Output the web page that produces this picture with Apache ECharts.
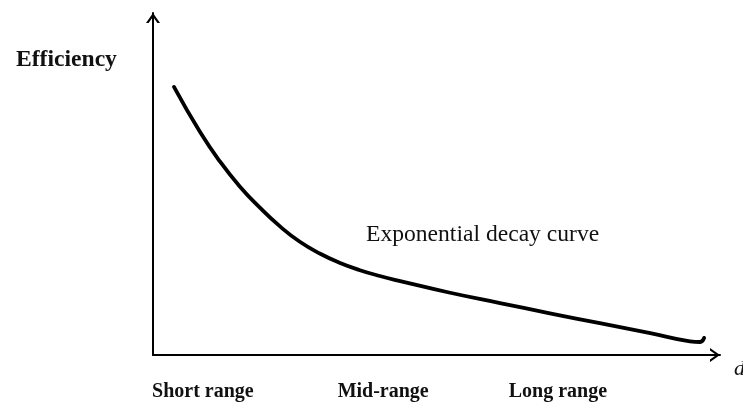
<!DOCTYPE html>
<html>
<head>
<meta charset="utf-8">
<script src="https://cdn.jsdelivr.net/npm/echarts@6/dist/echarts.min.js"></script>
<style>html,body{margin:0;padding:0;background:#fff;}#chart{width:743px;height:404px;}</style>
</head>
<body>
<div id="chart"></div>
<script>
// Curve points (distance, efficiency)
var curveX = [3.7, 8.3, 11.8, 15.3, 18.9, 22.4, 25.9, 29.5, 33.0, 36.5, 40.0, 43.6, 52.4, 61.2, 70.0, 78.8, 87.7, 94.7, 96.5, 97.2];
var curveY = [78.4, 65.2, 56.6, 49.3, 43.0, 37.6, 33.1, 29.6, 26.9, 24.8, 23.1, 21.6, 18.2, 15.2, 12.2, 9.3, 6.4, 4.0, 3.8, 5.0];
// Range labels along the distance axis
var rangeLabels = ['Short range', 'Mid-range', 'Long range'];
var rangePositions = [8.8, 40.6, 71.4];
var yAxisTitle = 'Efficiency';
var xAxisTitle = 'd';
var curveTitle = 'Exponential decay curve';

var curveData = curveX.map(function (x, i) { return [x, curveY[i]]; });
var arrowPath = 'path://M0,10 L7,0 L14,10 L11.4,10 L7,3.7 L2.6,10 Z';

var chart = echarts.init(document.getElementById('chart'), null, { renderer: 'canvas' });
chart.setOption({
  backgroundColor: '#ffffff',
  animation: false,
  title: [
    { text: yAxisTitle, left: 16, top: 48, padding: 0, textStyle: { fontFamily: 'Liberation Serif', fontWeight: 'bold', fontSize: 23.6, color: '#111' } },
    { text: curveTitle, left: 366, top: 223, padding: 0, textStyle: { fontFamily: 'Liberation Serif', fontWeight: 'normal', fontSize: 23.6, color: '#111' } }
  ],
  grid: { left: 153, right: 23, top: 13, bottom: 49, outerBoundsMode: 'none', containLabel: false },
  xAxis: {
    type: 'value', min: 0, max: 100,
    name: xAxisTitle, nameLocation: 'end', nameGap: 14,
    nameTextStyle: { fontFamily: 'Liberation Serif', fontStyle: 'italic', fontSize: 22, color: '#111', verticalAlign: 'top', padding: [3, 0, 0, 0] },
    axisLine: { show: true, onZero: false, lineStyle: { color: '#000', width: 2 }, symbol: ['none', arrowPath], symbolSize: [14, 10], symbolOffset: [0, -5] },
    axisTick: { show: false },
    splitLine: { show: false },
    axisLabel: {
      show: true, customValues: rangePositions, margin: 27,
      fontFamily: 'Liberation Serif', fontWeight: 'bold', fontSize: 20, color: '#111',
      formatter: function (v) {
        for (var i = 0; i < rangePositions.length; i++) { if (Math.abs(rangePositions[i] - v) < 0.01) return rangeLabels[i]; }
        return '';
      }
    }
  },
  yAxis: {
    type: 'value', min: 0, max: 100,
    axisLine: { show: true, onZero: false, lineStyle: { color: '#000', width: 2 }, symbol: ['none', arrowPath], symbolSize: [14, 10], symbolOffset: [0, -5] },
    axisTick: { show: false },
    splitLine: { show: false },
    axisLabel: { show: false }
  },
  series: [{
    type: 'line',
    data: curveData,
    smooth: 0.5,
    showSymbol: false,
    symbol: 'none',
    lineStyle: { color: '#000', width: 3.8, cap: 'round', join: 'round' }
  }]
});
</script>
</body>
</html>
